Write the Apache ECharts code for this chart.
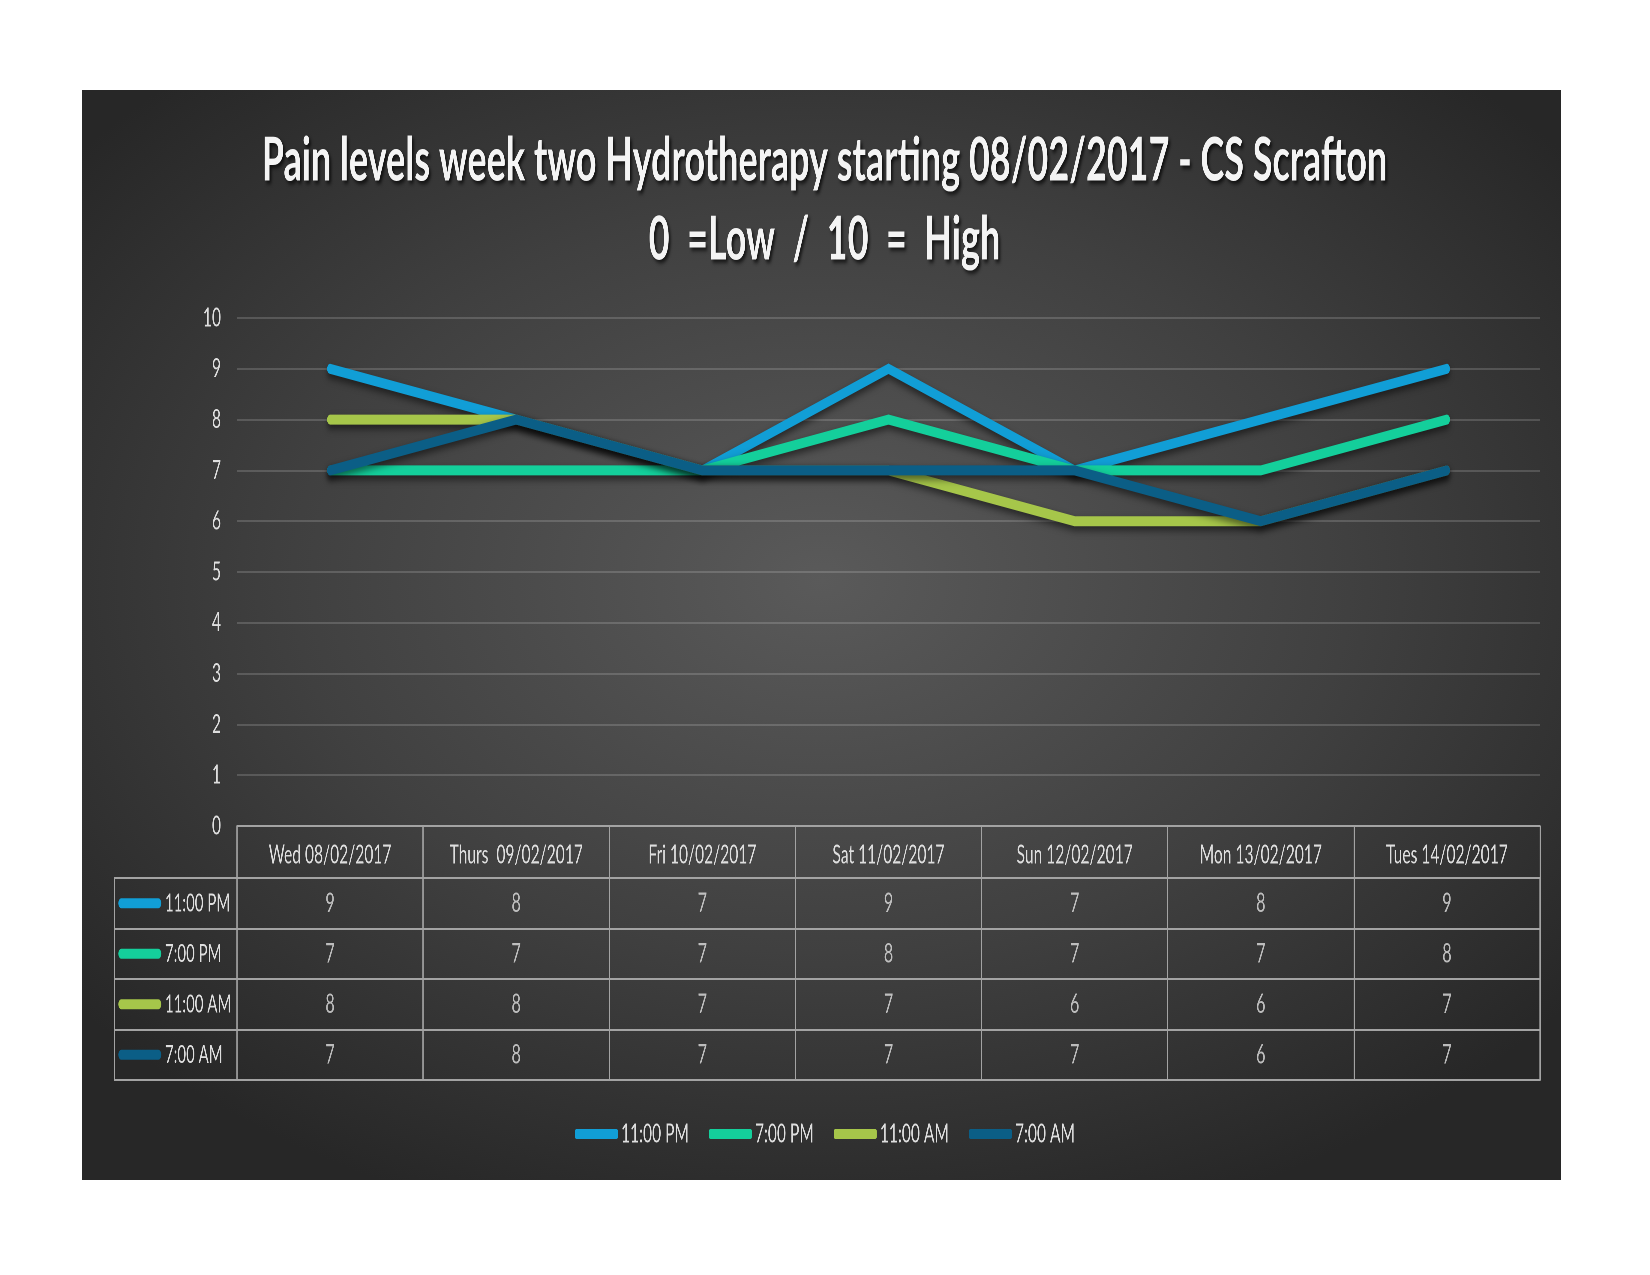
<!DOCTYPE html>
<html>
<head>
<meta charset="utf-8">
<title>Pain levels week two</title>
<script src="https://cdn.jsdelivr.net/npm/echarts@6/dist/echarts.min.js"></script>
<style>
  html, body { margin: 0; padding: 0; background: #fff; overflow: hidden; }
  #bg {
    position: absolute; left: 82px; top: 90px; width: 1479px; height: 1090px;
    background: radial-gradient(ellipse 65% 62% at 50% 45%, #5a5a5a 0%, #404040 55%, #272727 100%);
  }
  /* the original picture is squeezed sideways, so draw wide and squeeze */
  #chart {
    position: absolute; left: 0; top: 0; width: 2750px; height: 1275px;
    transform: scaleX(0.6); transform-origin: 0 0;
  }
</style>
</head>
<body>
<div id="bg"></div>
<div id="chart"></div>
<script>
const days = ['Wed 08/02/2017', 'Thurs  09/02/2017', 'Fri 10/02/2017', 'Sat 11/02/2017',
  'Sun 12/02/2017', 'Mon 13/02/2017', 'Tues 14/02/2017']
const seriesNames = ['11:00 PM', '7:00 PM', '11:00 AM', '7:00 AM']
const pm11 = [9, 8, 7, 9, 7, 8, 9]
const pm7 = [7, 7, 7, 8, 7, 7, 8]
const am11 = [8, 8, 7, 7, 6, 6, 7]
const am7 = [7, 8, 7, 7, 7, 6, 7]
const yTicks = [0, 10, 1] // min, max, step

const values = [pm11, pm7, am11, am7]
const colors = ['#119ed6', '#14cf9b', '#a6c64a', '#0b5e86']

const S = 0.6
const px = x => x / S // real page x -> chart x
const font = 'Lato, "Open Sans", sans-serif'
const textColor = '#dedede'
const border = '#a3a3a3'

const chart = echarts.init(document.getElementById('chart'), null, { devicePixelRatio: 2 })

const rich = {}
seriesNames.forEach((n, i) => {
  rich['k' + i] = { width: px(43), height: 10, borderRadius: 5, backgroundColor: colors[i] }
})
rich.t = { fontSize: 25, color: textColor, fontFamily: font, padding: [0, 0, 0, 6] }

const titleShadow = {
  textShadowColor: 'rgba(0,0,0,0.7)', textShadowBlur: 4, textShadowOffsetX: 3, textShadowOffsetY: 3
}

const option = {
  backgroundColor: 'transparent',
  animation: false,
  title: {
    text: '{a|Pain levels week two Hydrotherapy starting 08/02/2017 - CS Scrafton}\n{b|0  =Low  /  10  =  High}',
    left: px(821.5),
    textAlign: 'center',
    top: 117,
    textStyle: {
      rich: {
        a: Object.assign({ fontSize: 60, fontWeight: 'bold', color: '#f4f4f4', fontFamily: font, lineHeight: 78 }, titleShadow),
        b: Object.assign({ fontSize: 60, fontWeight: 'bold', color: '#f4f4f4', fontFamily: font, lineHeight: 80 }, titleShadow)
      }
    }
  },
  legend: {
    data: seriesNames,
    left: 'center',
    top: 1116,
    icon: 'roundRect',
    itemWidth: px(43),
    itemHeight: 10,
    itemGap: px(20),
    textStyle: { color: textColor, fontSize: 26, fontFamily: font, padding: [0, 0, 0, 0] }
  },
  grid: [
    { left: px(237), width: px(1303), top: 318, height: 508 },
    { left: px(237), width: px(1303), top: 878, height: 202, show: true, borderColor: border, borderWidth: 2 },
    { left: px(114.3), width: px(122.7), top: 878, height: 202, show: true, borderColor: border, borderWidth: 2 }
  ],
  xAxis: [
    {
      gridIndex: 0, type: 'category', data: days, boundaryGap: true,
      axisLine: { lineStyle: { color: border, width: 2 } },
      axisTick: { show: true, length: 52, lineStyle: { color: border, width: 2 } },
      axisLabel: { color: textColor, fontSize: 26, fontFamily: font, margin: 16 }
    },
    {
      gridIndex: 1, type: 'category', data: days, boundaryGap: true,
      axisLine: { show: false }, axisTick: { show: false }, axisLabel: { show: false },
      splitLine: { show: true, lineStyle: { color: border, width: 2 } }
    },
    { gridIndex: 2, type: 'value', show: false }
  ],
  yAxis: [
    {
      gridIndex: 0, type: 'value', min: yTicks[0], max: yTicks[1], interval: yTicks[2],
      axisLine: { show: false }, axisTick: { show: false },
      axisLabel: { color: textColor, fontSize: 26, fontFamily: font, margin: px(16) },
      splitLine: { lineStyle: { color: 'rgba(255,255,255,0.16)', width: 2 } }
    },
    {
      gridIndex: 1, type: 'category', data: seriesNames, inverse: true,
      axisLine: { show: false }, axisTick: { show: false }, axisLabel: { show: false },
      splitLine: { show: true, lineStyle: { color: border, width: 2 } }
    },
    {
      gridIndex: 2, type: 'category', data: seriesNames, inverse: true,
      axisLine: { show: false }, axisTick: { show: false },
      axisLabel: {
        inside: true, margin: px(4),
        formatter: (v, i) => '{k' + i + '|}{t|' + v + '}',
        rich: rich
      },
      splitLine: { show: true, lineStyle: { color: border, width: 2 } }
    }
  ],
  series: []
}

// lines, drawn in order so 7:00 AM ends up on top
seriesNames.forEach((name, i) => {
  option.series.push({
    name: name,
    type: 'line',
    xAxisIndex: 0, yAxisIndex: 0,
    data: values[i],
    color: colors[i],
    showSymbol: false,
    lineStyle: {
      width: 10, color: colors[i], cap: 'round', join: 'miter',
      shadowColor: 'rgba(0,0,0,0.55)', shadowBlur: 8, shadowOffsetY: 4
    },
    emphasis: { disabled: true }
  })
})

// table cells
seriesNames.forEach((name, r) => {
  option.series.push({
    name: 'table ' + name,
    type: 'scatter',
    xAxisIndex: 1, yAxisIndex: 1,
    symbolSize: 0,
    data: values[r].map((v, c) => [c, r, v]),
    label: {
      show: true, position: 'inside',
      formatter: p => p.value[2],
      color: textColor, fontSize: 27, fontFamily: font
    },
    emphasis: { disabled: true }
  })
})

chart.setOption(option)
</script>
</body>
</html>
